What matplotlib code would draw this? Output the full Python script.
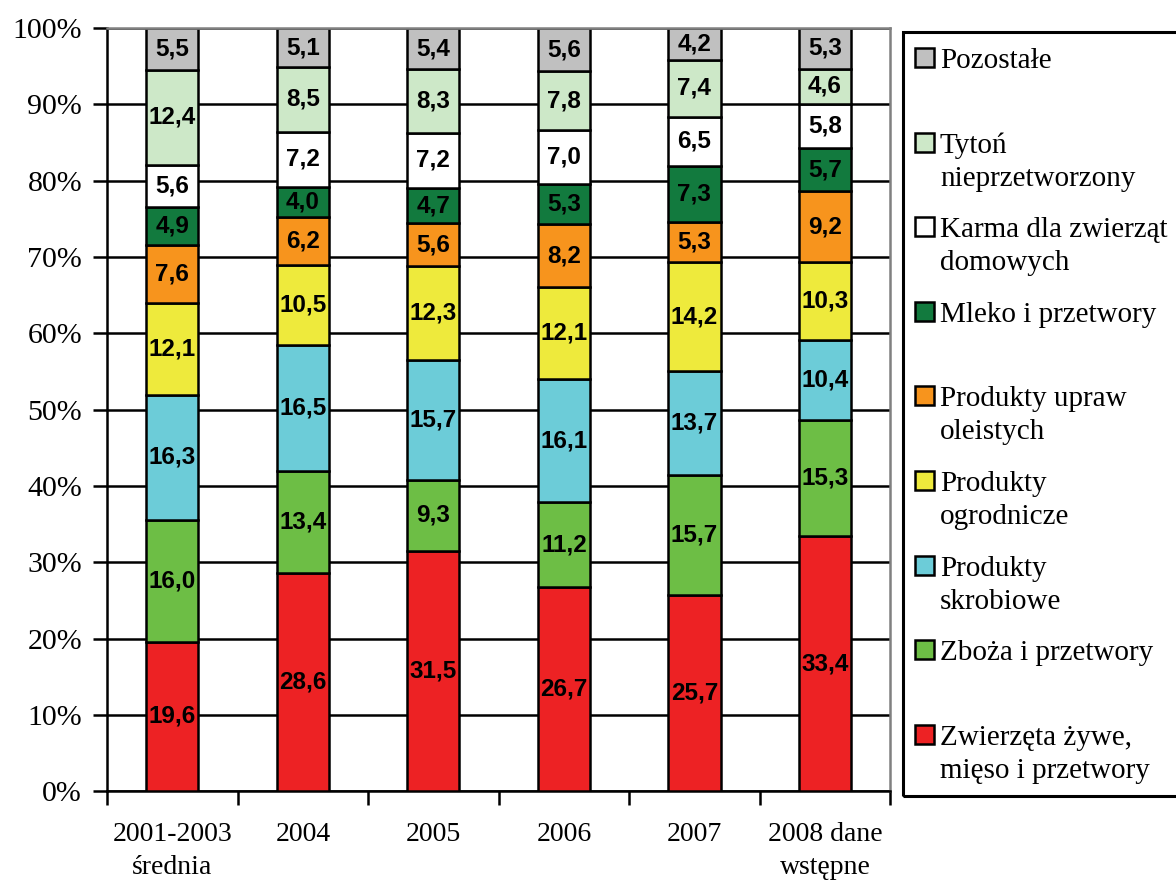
import matplotlib.pyplot as plt
import numpy as np
from matplotlib.patches import Rectangle

categories = ["2001-2003\nśrednia", "2004", "2005", "2006", "2007", "2008 dane\nwstępne"]

zwierzeta = [19.6, 28.6, 31.5, 26.7, 25.7, 33.4]
zboza = [16.0, 13.4, 9.3, 11.2, 15.7, 15.3]
skrobiowe = [16.3, 16.5, 15.7, 16.1, 13.7, 10.4]
ogrodnicze = [12.1, 10.5, 12.3, 12.1, 14.2, 10.3]
oleiste = [7.6, 6.2, 5.6, 8.2, 5.3, 9.2]
mleko = [4.9, 4.0, 4.7, 5.3, 7.3, 5.7]
karma = [5.6, 7.2, 7.2, 7.0, 6.5, 5.8]
tyton = [12.4, 8.5, 8.3, 7.8, 7.4, 4.6]
pozostale = [5.5, 5.1, 5.4, 5.6, 4.2, 5.3]

series_names = [
    "Zwierzęta żywe,\nmięso i przetwory",
    "Zboża i przetwory",
    "Produkty\nskrobiowe",
    "Produkty\nogrodnicze",
    "Produkty upraw\noleistych",
    "Mleko i przetwory",
    "Karma dla zwierząt\ndomowych",
    "Tytoń\nnieprzetworzony",
    "Pozostałe",
]
series_values = [zwierzeta, zboza, skrobiowe, ogrodnicze, oleiste, mleko, karma, tyton, pozostale]
colors = ["#ED2224", "#6DBE45", "#6CCCD8", "#EEEA3C", "#F7941D",
          "#127A3E", "#FFFFFF", "#CDE8C8", "#C0C0C0"]

SERIF = "Liberation Serif"
SANS = "Liberation Sans"

fig = plt.figure(figsize=(11.76, 8.8), dpi=100)
ax = fig.add_axes([0.091, 0.101, 0.666, 0.867])

x = np.arange(len(categories))
bottom = np.zeros(len(categories))
for vals, col in zip(series_values, colors):
    vals = np.array(vals)
    ax.bar(x, vals, 0.4, bottom=bottom, color=col, edgecolor="black", linewidth=1.8, zorder=3)
    for xi, b, v in zip(x, bottom, vals):
        ax.text(xi, b + v / 2, f"{v:.1f}".replace(".", ","), ha="center", va="center",
                fontsize=17.5, fontweight="bold", family=SANS, color="black", zorder=4)
    bottom += vals

ax.set_xlim(-0.5, len(categories) - 0.5)
ax.set_ylim(0, 100)
ax.set_yticks(np.arange(0, 101, 10))
ax.set_yticklabels([f"{v}%" for v in range(0, 101, 10)], family=SERIF, fontsize=21.5)
ax.yaxis.grid(True, color="black", linewidth=1.8, zorder=0)
ax.set_xticks(x)
ax.set_xticklabels(categories, family=SERIF, fontsize=20)
for lbl in ax.get_xticklabels():
    lbl.set_linespacing(1.45)
ax.set_xticks(np.arange(-0.5, len(categories)), minor=True)
ax.tick_params(axis="x", which="major", length=0, pad=22)
ax.tick_params(axis="x", which="minor", length=10, width=1.8, direction="out")
ax.tick_params(axis="y", length=10, width=1.8, direction="out", pad=8)

for side in ["left", "bottom"]:
    ax.spines[side].set_linewidth(1.8)
    ax.spines[side].set_color("black")
for side in ["top", "right"]:
    ax.spines[side].set_linewidth(1.8)
    ax.spines[side].set_color("#808080")
ax.spines["top"].set_zorder(5)

# hand-built legend box on the right
fig.patches.append(Rectangle((903 / 1176, 1 - 796 / 880), 300 / 1176, 764 / 880,
                             transform=fig.transFigure, fill=False, edgecolor="black",
                             linewidth=2.2, clip_on=False))
slot0 = 58
step = 84.6
for i, (name, col) in enumerate(zip(series_names[::-1], colors[::-1])):
    ytop = slot0 + step * i
    fig.patches.append(Rectangle((915 / 1176, 1 - (ytop + 9) / 880), 19 / 1176, 19 / 880,
                                 transform=fig.transFigure, facecolor=col,
                                 edgecolor="black", linewidth=1.8))
    fig.text(940 / 1176, 1 - (ytop - 10) / 880, name, ha="left", va="top",
             family=SERIF, fontsize=21, linespacing=1.35)

fig.savefig("out.png", dpi=100)
